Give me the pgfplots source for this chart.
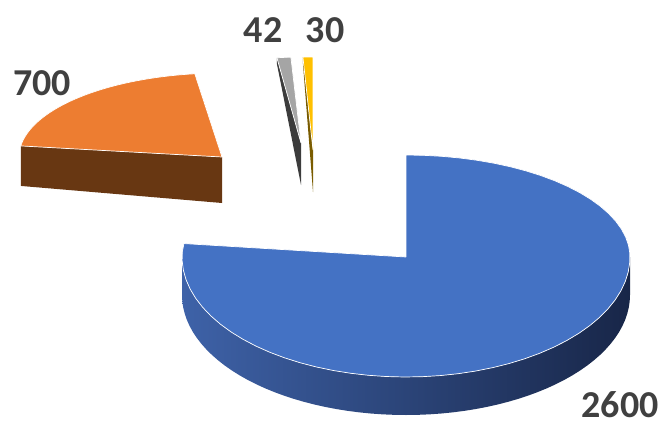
\documentclass[border=0pt]{standalone}
\usepackage{pgfplots}
\pgfplotsset{compat=1.18}
\usepackage{fontspec}
\setmainfont{Carlito}
\definecolor{blueTop}{RGB}{68,114,196}
\definecolor{blueSideL}{RGB}{62,98,168}
\definecolor{blueSideR}{RGB}{24,38,72}
\definecolor{orangeTop}{RGB}{237,125,49}
\definecolor{brownSide}{RGB}{104,55,18}
\definecolor{grayTop}{RGB}{165,165,165}
\definecolor{graySide}{RGB}{60,60,60}
\definecolor{yellowTop}{RGB}{255,192,0}
\definecolor{yellowSide}{RGB}{122,92,0}
\definecolor{lab}{RGB}{64,64,64}
\tikzset{lbl/.style={font=\bfseries\fontsize{38}{40}\selectfont, text=lab, inner sep=0pt, anchor=base}}
% data
\pgfmathsetmacro\vA{2600}
\pgfmathsetmacro\vB{700}
\pgfmathsetmacro\vC{42}
\pgfmathsetmacro\vD{30}
\pgfmathsetmacro\tot{\vA+\vB+\vC+\vD}
\pgfmathsetmacro\aA{360*(\vA/\tot)}
\pgfmathsetmacro\aB{\aA+360*(\vB/\tot)}
\pgfmathsetmacro\aC{\aB+360*(\vC/\tot)}
\pgfmathsetmacro\aD{\aC+360*(\vD/\tot)}
% #1 color, #2 px, #3 py, #4 rx, #5 ryb, #6 ryf, #7 a1, #8 a2
\newcommand\topface[8]{%
  \addplot[fill=#1, draw=white, line width=0.7pt, samples at={0,...,62}, variable=\t]
  ({#2 + R(\t)*#4*sin(A(\t,#7,#8))},
   {#3 - R(\t)*RY(A(\t,#7,#8),#5,#6)*cos(A(\t,#7,#8))});
}
% #1 shading opts, #2 px, #3 py, #4 rx, #5 ryb, #6 ryf, #7 d, #8 a1, #9 a2
\newcommand\sideface[9]{%
  \addplot[#1, draw=none, samples at={0,...,121}, variable=\t]
  ({#2 + #4*sin(SA(\t,#8,#9))},
   {#3 - RY(SA(\t,#8,#9),#5,#6)*cos(SA(\t,#8,#9)) + (\t>60.5)*#7});
}
% #1 color, #2 px, #3 py, #4 rx, #5 ryb, #6 ryf, #7 a, #8 depth outer, #9 depth apex
\newcommand\radface[9]{%
  \addplot[fill=#1, draw=none, samples at={0,1,2,3}, variable=\t]
  ({#2 + and(\t>0.5,\t<2.5)*#4*sin(#7)},
   {#3 - and(\t>0.5,\t<2.5)*RY(#7,#5,#6)*cos(#7) + (\t==2)*#8 + (\t==3)*#9});
}
\begin{document}
\begin{tikzpicture}
\begin{axis}[scale only axis, width=662pt, height=426pt,
  xmin=0, xmax=662, ymin=0, ymax=426, y dir=reverse,
  hide axis, clip=false,
  declare function={
    R(\s)=and(\s>0.5,\s<61.5);
    A(\s,\a,\b)=\a+(\b-\a)*min(max((\s-1)/60,0),1);
    SA(\s,\a,\b)=ifthenelse(\s<60.5,\a+(\b-\a)*\s/60,\b-(\b-\a)*(\s-61)/60);
    RY(\a,\p,\q)=ifthenelse(cos(\a)>0,\p,\q);
  }]
\addplot[draw=none, forget plot] coordinates {(0,0) (662,426)};
% grey sliver (42)
\radface{graySide}{301}{143}{180}{86}{86}{\aB}{6}{42}
\topface{grayTop}{301}{143}{180}{86}{86}{\aB}{\aC}
% yellow sliver (30)
\radface{yellowSide}{313}{150}{180}{93}{93}{\aC}{6}{42}
\topface{yellowTop}{313}{150}{180}{93}{93}{\aC}{\aD}
% orange (700)
\radface{brownSide}{222}{157}{203}{84}{84}{\aA}{40}{46}
\topface{orangeTop}{222}{157}{203}{84}{84}{\aA}{\aB}
% blue (2600)
\sideface{left color=blueSideL, right color=blueSideR}{406}{257}{224}{102}{120}{38}{90}{270}
\topface{blueTop}{406}{257}{224}{102}{120}{0}{\aA}
% labels
\node[lbl] at (axis cs:263,42) {42};
\node[lbl] at (axis cs:325,42) {30};
\node[lbl] at (axis cs:42,95) {700};
\node[lbl] at (axis cs:620,417) {2600};
\end{axis}
\end{tikzpicture}
\end{document}
